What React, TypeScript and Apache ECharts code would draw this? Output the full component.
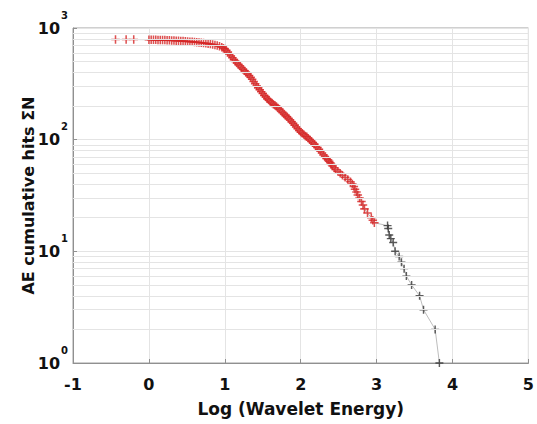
import React, { useEffect, useRef } from "react";
import * as echarts from "echarts";

// Red '+' markers: log wavelet energy vs cumulative hits
const redX = [
  -0.44, -0.3, -0.2, 0.0, 0.03, 0.06, 0.09, 0.12, 0.15, 0.18, 0.21, 0.24, 0.27, 0.3, 0.33, 0.36, 0.39, 0.42,
  0.45, 0.48, 0.51, 0.54, 0.57, 0.6, 0.63, 0.66, 0.69, 0.72, 0.75, 0.78, 0.81, 0.84, 0.87, 0.9, 0.93, 0.96,
  0.98, 1.0, 1.02, 1.04, 1.06, 1.08, 1.1, 1.12, 1.14, 1.16, 1.18, 1.2, 1.22, 1.24, 1.26, 1.28, 1.3, 1.32,
  1.34, 1.36, 1.38, 1.4, 1.42, 1.44, 1.46, 1.48, 1.5, 1.52, 1.54, 1.56, 1.58, 1.6, 1.62, 1.64, 1.66, 1.68,
  1.7, 1.72, 1.74, 1.76, 1.78, 1.8, 1.82, 1.84, 1.86, 1.88, 1.9, 1.92, 1.94, 1.96, 1.98, 2.0, 2.02, 2.04,
  2.06, 2.08, 2.1, 2.12, 2.14, 2.16, 2.18, 2.2, 2.22, 2.24, 2.26, 2.28, 2.3, 2.32, 2.34, 2.36,
  2.375, 2.39, 2.405, 2.42, 2.44, 2.46, 2.49, 2.52, 2.55, 2.585, 2.62, 2.655, 2.68, 2.7, 2.715, 2.735,
  2.752, 2.775, 2.8, 2.82, 2.84, 2.88, 2.93, 2.95, 2.97,
];
const redY = [
  790, 789, 788, 786, 785, 784, 783, 782, 781, 780, 779, 778, 776, 774, 772, 770, 768, 766,
  764, 761, 758, 755, 752, 749, 746, 742, 738, 734, 729, 724, 718, 712, 705, 697, 687, 674,
  660, 650, 631, 610, 586, 562, 541, 521, 501, 486, 471, 456, 441, 428, 414, 400, 387, 375,
  362, 347, 332, 317, 303, 291, 280, 269, 259, 249, 241, 233, 226, 219, 213, 208, 203, 198,
  192, 187, 181, 175, 170, 165, 160, 155, 150, 145, 140, 135, 130, 125, 121, 117, 114, 111,
  108, 106, 103, 100, 97, 94, 91, 88, 85, 82, 79, 76, 73, 70, 68, 66,
  64, 62, 60, 58, 56, 54, 52, 50, 48, 46, 44, 42, 40, 38, 36, 34,
  32, 30, 28, 26, 24, 22, 20, 19, 18,
];
// Black '+' markers (tail)
const blackX = [3.144, 3.153, 3.166, 3.187, 3.218, 3.244, 3.297, 3.327, 3.362, 3.392, 3.461, 3.566, 3.618, 3.771, 3.827];
const blackY = [17, 16, 14, 13, 12, 10, 9, 8, 7, 6, 5, 4, 3, 2, 1];

const xTicks = [-1, 0, 1, 2, 3, 4, 5];
const minorY = [2, 3, 4, 5, 6, 7, 8, 9, 20, 30, 40, 50, 60, 70, 80, 90, 200, 300, 400, 500, 600, 700, 800, 900];
const supMap: Record<number, string> = { 1: "0", 10: "1", 100: "2", 1000: "3" };

const PLUS = "path://M0,4.1H10V5.9H0ZM4.1,0H5.9V10H4.1Z";
const FONT = "DejaVu Sans";

export default function App() {
  const ref = useRef<HTMLDivElement>(null);
  useEffect(() => {
    if (!ref.current) return;
    const chart = echarts.init(ref.current, null, { renderer: "svg" });
    const red = redX.map((x, i) => [x, redY[i]]);
    const black = blackX.map((x, i) => [x, blackY[i]]);
    chart.setOption({
      animation: false,
      backgroundColor: "#ffffff",
      grid: { left: 73, top: 28, right: 5, bottom: 61, show: true, borderColor: "#a0a0a0", borderWidth: 1 },
      xAxis: {
        type: "value",
        min: xTicks[0],
        max: xTicks[xTicks.length - 1],
        interval: 1,
        name: "Log (Wavelet Energy)",
        nameLocation: "middle",
        nameGap: 37,
        nameMoveOverlap: false,
        nameTextStyle: { fontFamily: FONT, fontWeight: "bold", fontSize: 17, color: "#111" },
        axisLine: { onZero: false, lineStyle: { color: "#909090" } },
        axisTick: { inside: true, length: 4, lineStyle: { color: "#909090" } },
        axisLabel: { fontFamily: FONT, fontWeight: "bold", fontSize: 16, color: "#111", margin: 13 },
        splitLine: { show: true, lineStyle: { color: "#e4e4e4" } },
      },
      yAxis: {
        type: "log",
        logBase: 10,
        min: 1,
        max: 1000,
        name: "AE cumulative hits ΣN",
        nameLocation: "middle",
        nameGap: 37,
        nameMoveOverlap: false,
        nameTextStyle: { fontFamily: FONT, fontWeight: "bold", fontSize: 16, color: "#111" },
        axisLine: { show: true, onZero: false, lineStyle: { color: "#909090" } },
        axisTick: { inside: true, length: 4, lineStyle: { color: "#909090" } },
        axisLabel: {
          margin: 5,
          formatter: (v: number) => `{b|10}{s|${supMap[Math.round(v)] ?? ""}}`,
          rich: {
            b: { fontFamily: FONT, fontWeight: "bold", fontSize: 16, color: "#111", verticalAlign: "middle", lineHeight: 36 },
            s: { fontFamily: FONT, fontWeight: "bold", fontSize: 10, color: "#111", verticalAlign: "top", lineHeight: 10, padding: [0, 0, 0, 1] },
          },
        },
        splitLine: { show: true, lineStyle: { color: "#e4e4e4" } },
      },
      series: [
        {
          type: "line",
          data: red.concat(black),
          showSymbol: false,
          symbol: "none",
          lineStyle: { color: "#bdbdbd", width: 1 },
          silent: true,
          z: 1,
          markLine: {
            silent: true,
            symbol: "none",
            label: { show: false },
            lineStyle: { color: "#e4e4e4", type: "solid", width: 1 },
            data: minorY.map((v) => ({ yAxis: v })),
          },
        },
        {
          type: "scatter",
          data: red,
          symbol: PLUS,
          symbolSize: 8.5,
          itemStyle: { color: "#d42424" },
          z: 3,
        },
        {
          type: "scatter",
          data: black,
          symbol: PLUS,
          symbolSize: 8,
          itemStyle: { color: "#333333" },
          z: 4,
        },
      ],
    });
    return () => chart.dispose();
  }, []);
  return <div ref={ref} style={{ position: "fixed", left: 0, top: 0, width: 537, height: 424 }} />;
}
